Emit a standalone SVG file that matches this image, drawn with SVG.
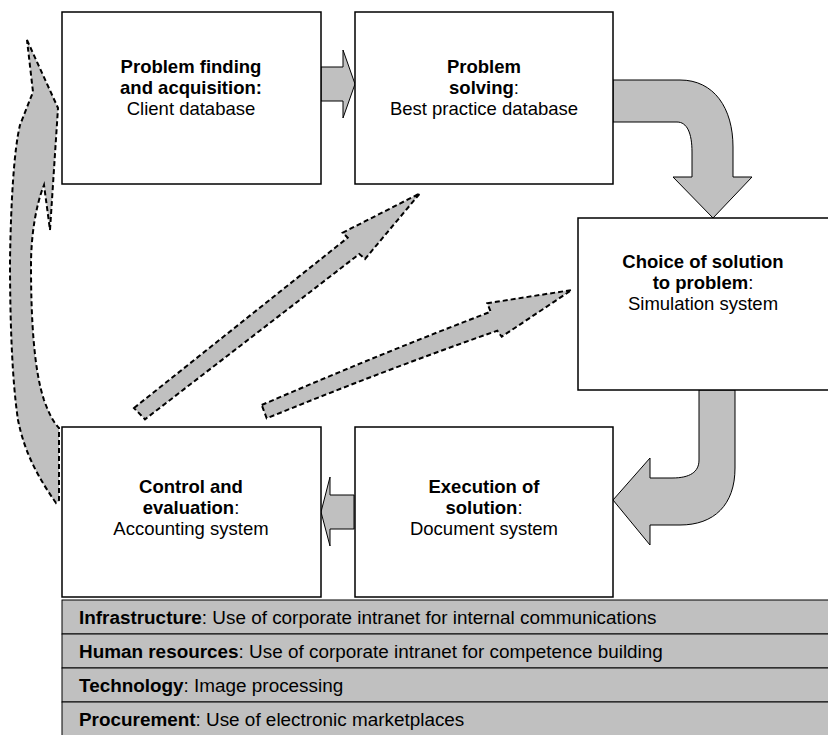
<svg xmlns="http://www.w3.org/2000/svg" width="828" height="735" viewBox="0 0 828 735">
  <style>
    .box { fill: #ffffff; stroke: #000000; stroke-width: 1.5; }
    .flow { fill: #c0c0c0; stroke: #000000; stroke-width: 1; stroke-linejoin: miter; }
    .dash { fill: #c0c0c0; stroke: #000000; stroke-width: 2; stroke-dasharray: 5 3; stroke-linejoin: miter; }
    .bar { fill: #c0c0c0; stroke: #000000; stroke-width: 1; }
    text { font-family: "Liberation Sans", Arial, sans-serif; font-size: 18.5px; fill: #000000; }
    .t { text-anchor: middle; }
    .b { font-weight: bold; }
    .row { font-size: 18.9px; }
  </style>

  <!-- feedback and flow connectors -->
  <g id="connectors">
    <!-- large dashed return arrow along the left margin -->
    <path class="dash" d="M27,40 L58,108 L50,230 L44,185 C36,205 31,235 31,265 C31,320 34,370 44,400 C49,414 54,423 59,428 L59,500 L56,503 C40,480 25,455 18,420 C12,380 10,320 10,260 C11,200 14,150 20,125 L33,92 Z"/>
    <!-- dashed arrow: control and evaluation to problem solving -->
    <path class="dash" d="M134,408 L347.7,237.7 L342.7,232.7 L420,193.3 L365,259 L359.3,254 L145,419.3 Z"/>
    <!-- dashed arrow: control and evaluation to choice of solution -->
    <path class="dash" d="M261.7,405 Q380,354 490.7,311.7 L487.3,303.3 L571.7,290 L501.7,336.7 L497.3,330.7 Q385,370 266.7,418.3 Z"/>
    <!-- problem finding to problem solving -->
    <path class="flow" d="M321,67 H343 V50 L355,84 L343,118 V101 H321 Z"/>
    <!-- problem solving bending down to choice of solution -->
    <path class="flow" d="M613,80 H680 C714,80 733,108 733,147 V177 H752 L713,218 L673,177 H692 V152 C692,133 687,122 677,122 H613 Z"/>
    <!-- choice of solution bending down to execution -->
    <path class="flow" d="M699,390 V460 C699,472 690,478 672,478 H650 V458 L613,500 L650,545 V525 H680 C714,525 735,505 735,468 V390 Z"/>
    <!-- execution back to control and evaluation -->
    <path class="flow" d="M354,495 H330 V477 L321,512 L330,546 V529 H354 Z"/>
  </g>

  <g id="node-problem-finding">
    <rect class="box" x="62" y="12" width="259" height="172"/>
    <text class="t b" x="191" y="73">Problem finding</text>
    <text class="t b" x="191" y="94">and acquisition:</text>
    <text class="t" x="191" y="115">Client database</text>
  </g>

  <g id="node-problem-solving">
    <rect class="box" x="355" y="12" width="258" height="172"/>
    <text class="t b" x="484" y="73">Problem</text>
    <text class="t" x="484" y="94"><tspan class="b">solving</tspan>:</text>
    <text class="t" x="484" y="115">Best practice database</text>
  </g>

  <g id="node-choice">
    <rect class="box" x="578" y="218" width="260" height="172"/>
    <text class="t b" x="703" y="268">Choice of solution</text>
    <text class="t" x="703" y="289"><tspan class="b">to problem</tspan>:</text>
    <text class="t" x="703" y="310">Simulation system</text>
  </g>

  <g id="node-control">
    <rect class="box" x="62" y="427" width="259" height="170"/>
    <text class="t b" x="191" y="493">Control and</text>
    <text class="t" x="191" y="514"><tspan class="b">evaluation</tspan>:</text>
    <text class="t" x="191" y="535">Accounting system</text>
  </g>

  <g id="node-execution">
    <rect class="box" x="355" y="427" width="258" height="170"/>
    <text class="t b" x="484" y="493">Execution of</text>
    <text class="t" x="484" y="514"><tspan class="b">solution</tspan>:</text>
    <text class="t" x="484" y="535">Document system</text>
  </g>

  <g id="support-activities">
    <rect class="bar" x="62" y="600" width="780" height="34"/>
    <rect class="bar" x="62" y="634" width="780" height="34"/>
    <rect class="bar" x="62" y="668" width="780" height="34"/>
    <rect class="bar" x="62" y="702" width="780" height="40"/>
    <text class="row" x="79" y="624"><tspan class="b">Infrastructure</tspan>: Use of corporate intranet for internal communications</text>
    <text class="row" x="79" y="658"><tspan class="b">Human resources</tspan>: Use of corporate intranet for competence building</text>
    <text class="row" x="79" y="692"><tspan class="b">Technology</tspan>: Image processing</text>
    <text class="row" x="79" y="726"><tspan class="b">Procurement</tspan>: Use of electronic marketplaces</text>
  </g>
</svg>
